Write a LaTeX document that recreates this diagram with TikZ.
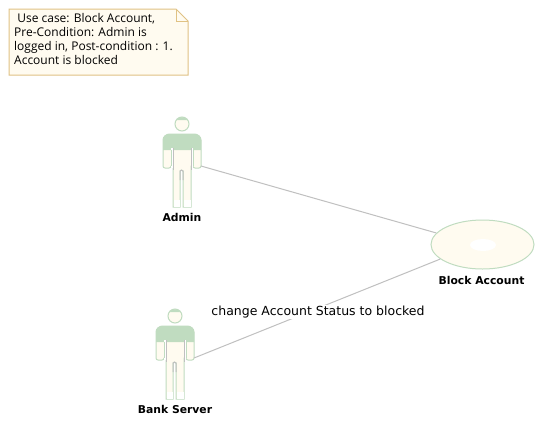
\documentclass[tikz,border=0pt]{standalone}
\usepackage{fontspec}
\setmainfont{Open Sans}
\newfontfamily\labelfont{DejaVu Sans}
\usetikzlibrary{shapes.geometric}
\definecolor{notefill}{HTML}{FFFBF0}
\definecolor{noteline}{HTML}{E0C284}
\definecolor{actorgreen}{HTML}{C0DCC0}
\definecolor{actorline}{HTML}{C0DCC0}
\definecolor{linkgray}{HTML}{C0C0C0}
\tikzset{
  actorname/.style={font=\labelfont\fontsize{10.8}{13}\selectfont\bfseries, inner sep=0pt},
  linklabel/.style={font=\labelfont\fontsize{12.5}{14}\selectfont, inner sep=0.5pt, fill=white},
  link/.style={linkgray, line width=1pt},
  actor/.pic={
    % body first, then the green top and the slits beside the arms
    \filldraw[actorline, fill=notefill, line width=1pt]
      (-19,16) -- (-19,42) to[out=-90,in=180] (-17,44) -- (-13,44) to[out=0,in=-90] (-11,42) -- (-9,42)
      -- (-9,83) -- (-2,83) -- (-2,47) to[out=90,in=90] (1,47) -- (1,83) -- (9,83) -- (9,42) -- (11,42)
      to[out=-90,in=180] (13,44) -- (17,44) to[out=0,in=-90] (19,42) -- (19,16)
      to[out=90,in=0] (12,10) -- (-12,10) to[out=180,in=90] cycle;
    \fill[actorgreen] (-19,26) -- (-19,16) to[out=90,in=180] (-12,10) -- (12,10) to[out=0,in=90] (19,16) -- (19,26) -- cycle;
    \fill[white] (-8.5,76) -- (-8.5,83) -- (-2.5,83) -- (-2.5,76) -- cycle;
    \fill[white] (1.5,76) -- (1.5,83) -- (8.5,83) -- (8.5,76) -- cycle;
    \foreach \x in {-10,10} {
      \fill[white] (\x-1,24) rectangle (\x+1,44);
      \draw[actorline, line width=1pt] (\x*1.1,26) -- (\x*1.1,42);
      \draw[linkgray, line width=1pt] (\x*0.9,24) -- (\x*0.9,46);
    }
    \draw[linkgray, line width=1pt] (-2,56) -- (-2,47) to[out=90,in=90] (1,47) -- (1,56);
    \filldraw[actorline, fill=notefill, line width=1pt] (0,0) circle (7);
    \fill[actorgreen] (-5.5,-4) to[out=60,in=120] (5.5,-4) -- cycle;
    \coordinate (-hand) at (19,42);
  }
}
\begin{document}
\begin{tikzpicture}[x=1pt,y=-1pt]
\useasboundingbox[fill=white] (0,0) rectangle (546,429);

% note
\filldraw[noteline, fill=notefill, line width=1pt] (9,9) -- (176,9) -- (188,21) -- (188,75) -- (9,75) -- cycle;
\draw[noteline, line width=1pt] (176,9) -- (176,21) -- (188,21);
\node[anchor=north west, inner sep=0pt, align=left, font=\fontsize{12}{14.2}\selectfont] (usecasenote) at (14,13)
  {\ Use case: Block Account,\\Pre-Condition: Admin is\\logged in, Post-condition : 1.\\Account is blocked};

% actors
\pic (admin) at (182,124) {actor};
\pic (server) at (175,316) {actor};
\node[actorname] (adminname) at (182,217.5) {Admin};
\node[actorname] (servername) at (175,409.5) {Bank Server};

% use case
\node[draw=actorline, fill=notefill, ellipse, minimum width=103pt, minimum height=49pt, inner sep=0pt, line width=1pt] (block) at (482.5,244.5) {};
\node[fill=white, ellipse, minimum width=26pt, minimum height=12pt, inner sep=0pt] (blockspot) at (483,245) {};
\node[actorname] (blockname) at (481.5,280.5) {Block Account};

\draw[link] (admin-hand) -- (block.166);
\draw[link] (server-hand) -- (block.199);
\node[linklabel] (statuslabel) at (318,312) {change Account Status to blocked};

\end{tikzpicture}
\end{document}
